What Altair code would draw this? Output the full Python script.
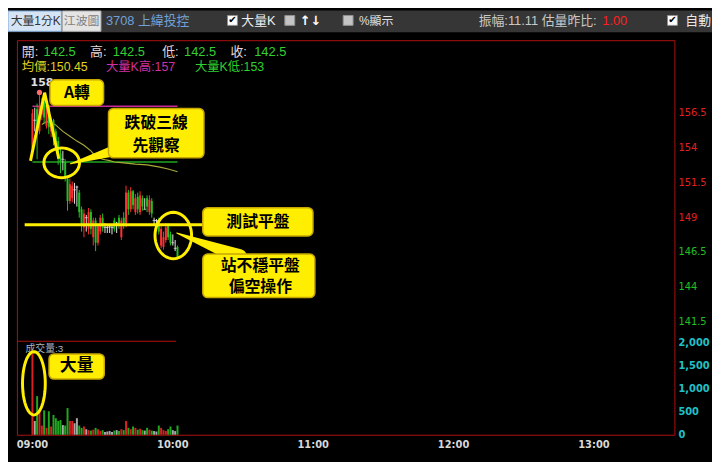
import math
import altair as alt
import pandas as pd

# ---------------- data ----------------
minute = list(range(63))  # minutes after 09:00
open_ = [154.0, 156.0, 156.8, 155.2, 156.4, 157.3, 155.6, 157.0, 155.2, 156.0,
         155.2, 154.5, 153.6, 153.2, 153.0, 151.8, 150.2, 150.4, 151.0, 151.2,
         150.8, 149.6, 148.3, 149.0, 148.2, 149.4, 147.6, 148.8, 147.2, 148.0,
         149.0, 148.3, 148.3, 148.4, 148.3, 148.8, 148.6, 149.0, 147.6, 149.0,
         148.5, 150.8, 149.6, 150.9, 149.4, 150.5, 149.4, 150.4, 149.6, 150.4,
         149.4, 150.2, 148.8, 148.8, 148.8, 147.0, 146.9, 147.4, 148.4, 147.8,
         147.2, 146.8, 146.9]
close = [156.5, 156.0, 155.2, 157.0, 157.3, 156.2, 157.0, 155.5, 155.8, 154.8,
         154.3, 153.5, 153.0, 153.2, 151.9, 150.2, 151.4, 151.3, 151.0, 151.2,
         149.4, 148.4, 149.3, 149.0, 149.4, 148.2, 148.8, 147.2, 148.4, 149.0,
         148.3, 148.3, 148.3, 148.4, 148.3, 148.2, 148.6, 148.4, 148.8, 148.5,
         150.8, 149.6, 150.9, 149.9, 150.4, 149.6, 150.6, 149.8, 149.6, 149.8,
         150.3, 149.3, 148.8, 148.8, 148.0, 148.2, 147.6, 148.3, 147.6, 147.2,
         147.2, 146.8, 146.2]
high = [156.8, 156.9, 157.2, 158.0, 157.6, 157.5, 157.2, 157.1, 156.2, 156.1,
        155.4, 154.8, 154.0, 153.8, 153.2, 152.0, 151.8, 151.6, 151.5, 151.3,
        151.0, 149.8, 149.6, 149.2, 149.7, 149.6, 149.0, 149.0, 148.6, 149.2,
        149.3, 148.6, 148.4, 148.5, 148.5, 149.0, 148.7, 149.2, 149.0, 149.4,
        151.3, 151.0, 151.2, 151.0, 150.7, 150.8, 150.9, 150.6, 150.4, 150.6,
        150.6, 150.4, 149.0, 148.9, 149.0, 148.4, 148.0, 148.6, 148.6, 148.0,
        147.8, 147.4, 147.0]
low = [153.6, 155.2, 153.2, 155.0, 156.0, 155.8, 155.4, 155.0, 154.8, 154.2,
       153.8, 152.8, 152.2, 152.4, 151.6, 149.5, 150.0, 150.1, 150.0, 149.8,
       149.0, 148.0, 147.6, 148.0, 147.8, 147.8, 147.0, 146.6, 147.0, 147.8,
       148.0, 147.9, 147.9, 147.9, 147.8, 148.0, 147.9, 148.2, 147.4, 148.2,
       148.3, 149.2, 149.4, 149.6, 149.2, 149.3, 149.2, 149.5, 149.6, 149.4,
       149.2, 149.0, 148.5, 148.4, 147.8, 146.8, 146.7, 147.2, 147.4, 147.0,
       147.0, 146.6, 146.0]
volume = [1760, 300, 840, 510, 200, 530, 150, 510, 180, 430,
          360, 300, 320, 210, 200, 580, 300, 300, 250, 360,
          200, 150, 180, 120, 100, 90, 110, 150, 120, 80,
          100, 60, 70, 80, 60, 90, 100, 80, 120, 100,
          300, 150, 120, 180, 150, 110, 130, 100, 90, 150,
          110, 90, 80, 70, 200, 150, 100, 80, 120, 180,
          100, 80, 200]

avg_minute = [4, 6, 8, 10, 13, 16, 19, 22, 25, 27, 30, 33, 35, 38, 44, 49, 54, 58, 62]
avg_price = [155.7, 155.9, 155.85, 155.65, 155.2, 154.85, 154.5, 154.2, 153.8, 153.4,
             153.2, 153.1, 153.0, 152.95, 152.85, 152.8, 152.65, 152.5, 152.3]

prev_close = 148.5
bigk_high = 157
bigk_low = 153
day_high = 158

price_ticks = [156.5, 154, 151.5, 149, 146.5, 144, 141.5]
price_tick_labels = ["156.5", "154", "151.5", "149", "146.5", "144", "141.5"]
vol_ticks = [2000, 1500, 1000, 500, 0]
vol_tick_labels = ["2,000", "1,500", "1,000", "500", "0"]
time_ticks = [0, 60, 120, 180, 240]
time_labels = ["09:00", "10:00", "11:00", "12:00", "13:00"]

# annotations (in data units: minutes / price / volume)
box_m1 = [7.5, 32.5, 72.8, 72.8]
box_m2 = [30.4, 73.3, 119.9, 120.7]
box_p1 = [158.91, 156.85, 149.72, 146.39]
box_p2 = [157.06, 153.30, 147.69, 143.26]
box_text = ["A轉", "跌破三線", "先觀察", "測試平盤", "站不穩平盤", "偏空操作"]
box_text_m = [19.0, 52.9, 52.9, 96.4, 97.4, 97.4]
box_text_p = [157.98, 155.78, 154.15, 148.72, 145.56, 144.03]

vbox_m = [7.08, 30.7]
vbox_v = [1757, 1211]
vbox_text = ["大量"]
vbox_text_m = [18.9]
vbox_text_v = [1484]

a_minute = [-0.83, 5.2, 11.25]
a_price = [153.08, 157.98, 153.23]

# ---------------- styles ----------------
FONT = "Liberation Sans, Noto Sans CJK TC"
CJK = "Noto Sans CJK TC"
YEL = "#ffee00"
RED = "#ff3030"
GRN = "#22c022"
WHT = "#e6e6e6"
FRAME = "#b01010"

XS = alt.Scale(domain=[-8.3333, 288.3333], nice=False, zero=False)
PS = alt.Scale(domain=[131.635, 163.879], nice=False, zero=False)
VS = alt.Scale(domain=[-537.6, 9225.8], nice=False, zero=False)


def xq(f):
    return alt.X(f, type="quantitative", scale=XS, axis=None)


def yp(f):
    return alt.Y(f, type="quantitative", scale=PS, axis=None)


def yv(f):
    return alt.Y(f, type="quantitative", scale=VS, axis=None)


dummy = pd.DataFrame({"d": [0]})


def dtext(txt, x, y, color, size=13, weight="normal", align="left", font=FONT):
    return alt.Chart(dummy).mark_text(
        text=txt, align=align, baseline="middle", color=color,
        fontSize=size, fontWeight=weight, font=font
    ).encode(x=alt.value(x), y=alt.value(y))


def drect(x1, y1, x2, y2, **kw):
    return alt.Chart(dummy).mark_rect(**kw).encode(
        x=alt.value(x1), x2=alt.value(x2), y=alt.value(y1), y2=alt.value(y2))


def ellipse_path(a, b, n=48):
    pts = []
    for k in range(n):
        t = 2 * math.pi * k / n
        pts.append(f"{a * math.cos(t):.4f} {b * math.sin(t):.4f}")
    return "M " + " L ".join(pts) + " Z"


# ---------------- tables ----------------
df = pd.DataFrame({"m": minute, "o": open_, "h": high, "l": low, "c": close, "v": volume})
df["col"] = [RED if c > o else (GRN if c < o else WHT) for o, c in zip(open_, close)]
df["vcol"] = ["#d82020" if c > o else ("#20a820" if c < o else "#a8a8a8") for o, c in zip(open_, close)]
df["z"] = 0

avg_df = pd.DataFrame({"m": avg_minute, "p": avg_price})
hl_df = pd.DataFrame({"m1": [0, 0], "m2": [62, 62], "p": [bigk_high, bigk_low],
                      "col": ["#c8289a", "#1fa51f"]})
prev_df = pd.DataFrame({"m1": [-3.33], "m2": [72.9], "p": [prev_close]})
a_df = pd.DataFrame({"m": a_minute, "p": a_price, "k": [0, 1, 2]})

price_lab = pd.DataFrame({"p": price_ticks, "t": price_tick_labels,
                          "col": ["#e02020" if v > prev_close else "#20c020" for v in price_ticks]})
vol_lab = pd.DataFrame({"v": vol_ticks, "t": vol_tick_labels})
time_lab = pd.DataFrame({"m": time_ticks, "t": time_labels})

box_df = pd.DataFrame({"m1": box_m1, "m2": box_m2, "p1": box_p1, "p2": box_p2})
boxt_df = pd.DataFrame({"m": box_text_m, "p": box_text_p, "t": box_text})
vbox_df = pd.DataFrame({"m1": [vbox_m[0]], "m2": [vbox_m[1]], "v1": [vbox_v[0]], "v2": [vbox_v[1]]})
vboxt_df = pd.DataFrame({"m": vbox_text_m, "v": vbox_text_v, "t": vbox_text})

trail_df = pd.DataFrame({
    "g": ["a", "a", "b", "b"],
    "k": [0, 1, 0, 1],
    "m": [16.25, 36.25, 61.67, 88.3],
    "p": [152.87, 153.87, 147.9, 146.19],
    "w": [1, 12, 1, 16],
})

ell1 = pd.DataFrame({"m": [12.5], "p": [152.94]})
ell2 = pd.DataFrame({"m": [60.2], "p": [147.72]})
ell3 = pd.DataFrame({"m": [0.625], "v": [1118]})
peak_df = pd.DataFrame({"m": [3], "p": [day_high]})
peak_lab = pd.DataFrame({"m": [-0.8], "p": [158.7], "t": [str(day_high)]})
volname_df = pd.DataFrame({"m": [-3.0], "v": [1871], "t": ["成交量:3"]})

layers = []

# ---------- header bar ----------
layers.append(drect(0, 0, 712, 22, fill="#363636"))
layers.append(drect(0, 0.5, 54, 21, fill="#d4e4f4", stroke="#80a8d8", strokeWidth=1))
layers.append(dtext("大量1分K", 28, 10.5, "#333333", size=12, align="center"))
layers.append(drect(55, 0.5, 94, 21, fill="#e4e4e4", stroke="#b0b0b0", strokeWidth=1))
layers.append(dtext("江波圖", 74.5, 10.5, "#808080", size=12, align="center"))
layers.append(dtext("3708 上緯投控", 99, 10.5, "#6fa0d8", size=13))
for bx, checked in [(222, True), (280, False), (339, False), (667, True)]:
    layers.append(drect(bx, 5, bx + 10, 15, fill="#ffffff" if checked else "#c4c4c4",
                        stroke="#909090", strokeWidth=1))
    if checked:
        layers.append(dtext("✔", bx + 5, 10, "#000000", size=10, align="center", font="DejaVu Sans"))
layers.append(dtext("大量K", 236, 10.5, "#eeeeee", size=13))
layers.append(dtext("↑↓", 295, 10.5, "#ffffff", size=13, weight="bold", font="DejaVu Sans"))
layers.append(dtext("%顯示", 355, 10.5, "#e0e0e0", size=12))
layers.append(dtext("振幅:11.11 估量昨比:", 476, 10.5, "#c8c8c8", size=13))
layers.append(dtext("1.00", 601, 10.5, "#ff2020", size=13))
layers.append(dtext("自動", 685, 10.5, "#e8e8e8", size=13))

# ---------- frame ----------
layers.append(drect(9.5, 30.5, 674.5, 429.5, fillOpacity=0, stroke=FRAME, strokeWidth=1))
layers.append(drect(9.5, 334, 170, 335, fill=FRAME))

# ---------- info lines ----------
for txt, x, col in [("開:", 14, "#e8d8d8"), ("142.5", 36, "#30d030"),
                    ("高:", 83, "#e8d8d8"), ("142.5", 106, "#30d030"),
                    ("低:", 156, "#e8d8d8"), ("142.5", 178, "#30d030"),
                    ("收:", 225, "#e8d8d8"), ("142.5", 249, "#30d030")]:
    layers.append(dtext(txt, x, 42, col, size=13))
layers.append(dtext("均價:150.45", 14, 57, "#e0d020", size=12.5))
layers.append(dtext("大量K高:157", 99, 57, "#d030a0", size=12.5))
layers.append(dtext("大量K低:153", 189, 57, "#30d030", size=12.5))

# ---------- reference lines ----------
layers.append(alt.Chart(hl_df).mark_rule(strokeWidth=1.5).encode(
    x=xq("m1"), x2="m2", y=yp("p"), color=alt.Color("col:N", scale=None)))
layers.append(alt.Chart(avg_df).mark_line(color="#a8a838", strokeWidth=1.2).encode(
    x=xq("m"), y=yp("p")))

# ---------- candles ----------
layers.append(alt.Chart(df).mark_rule(strokeWidth=1).encode(
    x=xq("m"), y=yp("l"), y2="h", color=alt.Color("col:N", scale=None)))
layers.append(alt.Chart(df).mark_bar(size=2).encode(
    x=xq("m"), y=yp("o"), y2="c", color=alt.Color("col:N", scale=None)))
layers.append(alt.Chart(df).transform_filter("datum.o == datum.c").mark_tick(
    orient="horizontal", size=3, thickness=1).encode(
    x=xq("m"), y=yp("c"), color=alt.Color("col:N", scale=None)))

# ---------- volume ----------
layers.append(alt.Chart(df).mark_bar(size=2).encode(
    x=xq("m"), y=yv("v"), y2="z", color=alt.Color("vcol:N", scale=None)))
layers.append(alt.Chart(volname_df).mark_text(
    align="left", baseline="middle", fontSize=10, color="#a8b4c0", font=FONT).encode(
    x=xq("m"), y=yv("v"), text="t:N"))

# peak marker
layers.append(alt.Chart(peak_df).mark_point(filled=True, size=28, color="#ff6a6a", opacity=1).encode(
    x=xq("m"), y=yp("p")))
layers.append(alt.Chart(peak_lab).mark_text(
    align="left", baseline="middle", fontSize=11, fontWeight="bold", color="#e0e0e0",
    font="DejaVu Sans").encode(x=xq("m"), y=yp("p"), text="t:N"))

# ---------- yellow annotations ----------
layers.append(alt.Chart(prev_df).mark_rule(color=YEL, strokeWidth=3).encode(
    x=xq("m1"), x2="m2", y=yp("p")))
layers.append(alt.Chart(a_df).mark_line(color=YEL, strokeWidth=3).encode(
    x=xq("m"), y=yp("p"), order="k:Q"))
layers.append(alt.Chart(ell1).mark_point(
    shape=ellipse_path(1, 0.833), size=1296, filled=False, stroke=YEL, strokeWidth=3, opacity=1).encode(
    x=xq("m"), y=yp("p")))
layers.append(alt.Chart(ell2).mark_point(
    shape=ellipse_path(0.787, 1), size=2209, filled=False, stroke=YEL, strokeWidth=3, opacity=1).encode(
    x=xq("m"), y=yp("p")))
layers.append(alt.Chart(ell3).mark_point(
    shape=ellipse_path(0.36, 1), size=4096, filled=False, stroke=YEL, strokeWidth=3, opacity=1).encode(
    x=xq("m"), y=yv("v")))
layers.append(alt.Chart(trail_df).mark_trail(color=YEL).encode(
    x=xq("m"), y=yp("p"), size=alt.Size("w:Q", scale=None), detail="g:N", order="k:Q"))
layers.append(alt.Chart(box_df).mark_rect(
    cornerRadius=5, fill=YEL, stroke="#c8a800", strokeWidth=1.5).encode(
    x=xq("m1"), x2="m2", y=yp("p1"), y2="p2"))
layers.append(alt.Chart(boxt_df).mark_text(
    font=CJK, fontSize=16, fontWeight="bold", color="#000000", baseline="middle").encode(
    x=xq("m"), y=yp("p"), text="t:N"))
layers.append(alt.Chart(vbox_df).mark_rect(
    cornerRadius=5, fill=YEL, stroke="#c8a800", strokeWidth=1.5).encode(
    x=xq("m1"), x2="m2", y=yv("v1"), y2="v2"))
layers.append(alt.Chart(vboxt_df).mark_text(
    font=CJK, fontSize=17, fontWeight="bold", color="#000000", baseline="middle").encode(
    x=xq("m"), y=yv("v"), text="t:N"))

# ---------- axis labels ----------
layers.append(alt.Chart(price_lab).mark_text(
    align="left", baseline="middle", fontSize=10, font="DejaVu Sans").encode(
    x=alt.value(678), y=yp("p"), text="t:N", color=alt.Color("col:N", scale=None)))
layers.append(alt.Chart(vol_lab).mark_text(
    align="left", baseline="middle", fontSize=10, fontWeight="bold", color="#20c0c8",
    font="DejaVu Sans").encode(x=alt.value(678), y=yv("v"), text="t:N"))
layers.append(alt.Chart(time_lab).mark_text(
    align="center", baseline="middle", fontSize=10, fontWeight="bold", color="#d8d8d8",
    font="DejaVu Sans").encode(x=xq("m"), y=alt.value(439), text="t:N"))

chart = alt.layer(*layers).resolve_scale(y="independent").properties(
    width=712, height=454, padding=0,
    autosize=alt.AutoSizeParams(type="none"),
    background="#000000",
).configure_view(stroke=None)

chart.save("out.html", embed_options={"renderer": "svg", "actions": False})
